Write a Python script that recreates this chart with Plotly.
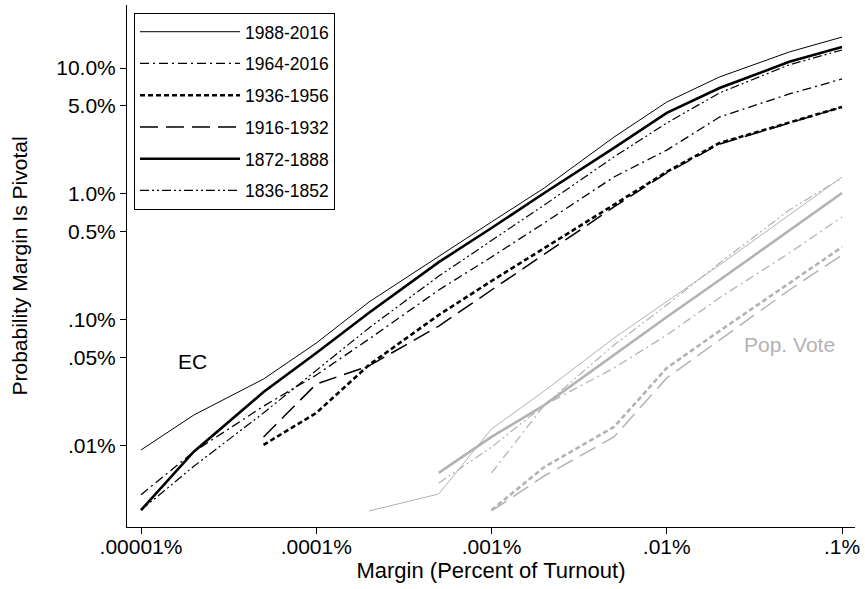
import plotly.graph_objects as go

# Margin values (percent of turnout)
margins = [1e-5, 2e-5, 5e-5, 1e-4, 2e-4, 5e-4, 1e-3, 2e-3, 5e-3, 1e-2, 2e-2, 5e-2, 1e-1]

# Electoral College series (probability, percent)
ec_1988_2016 = [0.0093, 0.0176, 0.034, 0.0656, 0.139, 0.322, 0.600, 1.116, 2.83, 5.37, 8.49, 13.4, 17.6]
ec_1964_2016 = [0.0041, 0.0090, 0.0207, 0.0366, 0.0706, 0.173, 0.316, 0.589, 1.365, 2.23, 4.08, 6.22, 8.18]
ec_1936_1956 = [None, None, 0.0102, 0.0183, 0.0440, 0.1096, 0.204, 0.372, 0.834, 1.50, 2.54, 3.72, 4.90]
ec_1916_1932 = [None, None, 0.0118, 0.0310, 0.0432, 0.0895, 0.173, 0.334, 0.789, 1.47, 2.49, 3.66, 4.90]
ec_1872_1888 = [0.0031, 0.0090, 0.0268, 0.0547, 0.114, 0.288, 0.537, 1.018, 2.32, 4.40, 6.93, 11.2, 14.7]
ec_1836_1852 = [0.0031, 0.0069, 0.0183, 0.0401, 0.0865, 0.223, 0.424, 0.818, 1.97, 3.66, 6.34, 10.6, 13.9]

# Popular vote series (probability, percent)
pv_1988_2016 = [None, None, None, None, 0.00305, 0.00416, 0.01365, 0.0273, 0.0719, 0.139, 0.273, 0.681, 1.365]
pv_1964_2016 = [None, None, None, None, None, None, 0.00611, 0.0211, 0.0416, 0.0760, 0.150, 0.340, 0.656]
pv_1936_1956 = [None, None, None, None, None, None, 0.00310, 0.00681, 0.01416, 0.0416, 0.0818, 0.197, 0.379]
pv_1916_1932 = [None, None, None, None, None, None, 0.00305, 0.00578, 0.0118, 0.0347, 0.0693, 0.173, 0.328]
pv_1872_1888 = [None, None, None, None, None, 0.00611, 0.0118, 0.0211, 0.0527, 0.1057, 0.2075, 0.518, 1.018]
pv_1836_1852 = [None, None, None, None, None, 0.00508, 0.0098, 0.0211, 0.0634, 0.1315, 0.283, 0.746, 1.34]

period_labels = ["1988-2016", "1964-2016", "1936-1956", "1916-1932", "1872-1888", "1836-1852"]

x_tickvals = [1e-5, 1e-4, 1e-3, 1e-2, 1e-1]
x_ticktext = [".00001%", ".0001%", ".001%", ".01%", ".1%"]
y_tickvals = [0.01, 0.05, 0.1, 0.5, 1, 5, 10]
y_ticktext = [".01%", ".05%", ".10%", "0.5%", "1.0%", "5.0%", "10.0%"]

styles = [
    dict(width=1.0, dash="solid"),
    dict(width=1.3, dash="9px,4px,2px,4px"),
    dict(width=2.6, dash="5px,3px"),
    dict(width=1.5, dash="18px,8px"),
    dict(width=2.6, dash="solid"),
    dict(width=1.2, dash="9px,3px,2px,3px,2px,3px"),
]

ec_series = [ec_1988_2016, ec_1964_2016, ec_1936_1956, ec_1916_1932, ec_1872_1888, ec_1836_1852]
pv_series = [pv_1988_2016, pv_1964_2016, pv_1936_1956, pv_1916_1932, pv_1872_1888, pv_1836_1852]

GRAY = "#b3b3b3"
FONT = "Liberation Sans, Arial, sans-serif"

fig = go.Figure()
for lab, ys, st in zip(period_labels, pv_series, styles):
    fig.add_trace(go.Scatter(x=margins, y=ys, mode="lines", showlegend=False,
                             line=dict(color=GRAY, width=st["width"], dash=st["dash"]),
                             name=lab + " PV"))
for i, (lab, ys, st) in enumerate(zip(period_labels, ec_series, styles)):
    fig.add_trace(go.Scatter(x=margins, y=ys, mode="lines", name=lab, legendgroup=str(i),
                             line=dict(color="black", width=st["width"], dash=st["dash"])))

fig.add_annotation(x=-4.705, y=-1.333, xref="x", yref="y", text="EC", showarrow=False,
                   font=dict(size=21, color="black", family=FONT))
fig.add_annotation(x=-1.302, y=-1.198, xref="x", yref="y", text="Pop. Vote", showarrow=False,
                   font=dict(size=21, color=GRAY, family=FONT))

fig.update_layout(
    width=865, height=589,
    margin=dict(l=127, r=7, t=5, b=62),
    paper_bgcolor="white", plot_bgcolor="white",
    font=dict(family=FONT, size=21, color="black"),
    legend=dict(x=0.0096, y=0.985, xanchor="left", yanchor="top",
                bordercolor="black", borderwidth=1, bgcolor="white",
                font=dict(size=17.5), tracegroupgap=6, itemwidth=100,
                traceorder="grouped"),
    xaxis=dict(type="log", range=[-5.08, -0.926], tickvals=x_tickvals, ticktext=x_ticktext,
               showgrid=False, zeroline=False, showline=True, linecolor="black", linewidth=1,
               ticks="outside", ticklen=6, tickcolor="black", tickfont=dict(size=21),
               ticklabelstandoff=-5,
               title=dict(text="Margin (Percent of Turnout)", standoff=0, font=dict(size=22))),
    yaxis=dict(type="log", range=[-2.643, 1.5], tickvals=y_tickvals, ticktext=y_ticktext,
               showgrid=False, zeroline=False, showline=True, linecolor="black", linewidth=1,
               ticks="outside", ticklen=6, tickcolor="black", tickfont=dict(size=21),
               title=dict(text="Probability Margin Is Pivotal", standoff=22, font=dict(size=21))),
)

fig.write_html("out.html")
